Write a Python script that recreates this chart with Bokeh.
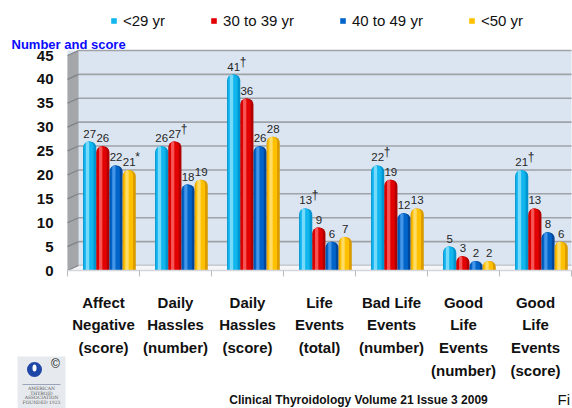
from bokeh.plotting import figure
from bokeh.models import Range1d, FixedTicker, ColumnDataSource, Legend, LegendItem
from bokeh.transform import dodge
from bokeh.core.properties import value
from bokeh.embed import file_html
from bokeh.resources import INLINE

# ---------------- data ----------------
categories = ["Affect\nNegative\n(score)", "Daily\nHassles\n(number)",
              "Daily\nHassles\n(score)", "Life\nEvents\n(total)",
              "Bad Life\nEvents\n(number)", "Good\nLife\nEvents\n(number)",
              "Good\nLife\nEvents\n(score)"]
series_names = ["<29 yr", "30 to 39 yr", "40 to 49 yr", "<50 yr"]
age_lt29 = [27, 26, 41, 13, 22, 5, 21]
age_30_39 = [26, 27, 36, 9, 19, 3, 13]
age_40_49 = [22, 18, 26, 6, 12, 2, 8]
age_ge50 = [21, 19, 28, 7, 13, 2, 6]
marks_lt29 = ["", "", "\u2020", "\u2020", "\u2020", "", "\u2020"]
marks_30_39 = ["", "\u2020", "", "", "", "", ""]
marks_40_49 = ["", "", "", "", "", "", ""]
marks_ge50 = ["*", "", "", "", "", "", ""]
y_ticks = [0, 5, 10, 15, 20, 25, 30, 35, 40, 45]
y_title = "Number and score"
footer_text = "Clinical Thyroidology Volume 21 Issue 3 2009"

SANS = "Liberation Sans"
W, H = 572, 408

# layout of the plotting area in page pixels
PLOT_L, PLOT_B, CAT_W, UNIT_H = 67, 270, 72, 215 / 45
DEPTH = 1.05      # 3D floor depth (value units)
WALL = 0.153      # 3D left wall width (category units)


def X(px):  # page x -> data x
    return (px - PLOT_L) / CAT_W


def Y(py):  # page y -> data y
    return (PLOT_B - py) / UNIT_H


# the frame covers the whole canvas; axes are pinned at x=0 / y=0
p = figure(width=W, height=H, x_range=Range1d(X(0), X(W)), y_range=Range1d(Y(H), Y(0)),
           output_backend="svg", toolbar_location=None, min_border=0,
           min_border_left=0, min_border_right=0, min_border_top=0, min_border_bottom=0)
p.title.visible = False
p.background_fill_color = "white"
p.border_fill_color = "white"
p.outline_line_color = None
p.grid.visible = False

# back wall (shifted up by the floor depth), gridlines, floor, left wall
grid_y = [t + DEPTH for t in y_ticks]
p.quad(left=0, right=7, bottom=DEPTH, top=45 + DEPTH, fill_color="#dbe5f1", line_color=None)
p.segment(x0=WALL, x1=7, y0=grid_y, y1=grid_y, line_color="#9fa2a6", line_width=1.6)
p.quad(left=0, right=7, bottom=0, top=DEPTH, fill_color="#f3f5f9", line_color=None)
p.patch(x=[0, 0, WALL, WALL], y=[0, 45, 45 + DEPTH, DEPTH], fill_color="#a4a6a9",
        line_color=None)
p.segment(x0=[0] * len(y_ticks), x1=[WALL] * len(y_ticks), y0=y_ticks, y1=grid_y,
          line_color="#7f8286", line_width=1.2)

# y axis
p.yaxis.fixed_location = 0
p.yaxis.bounds = (0, 45)
p.yaxis.ticker = FixedTicker(ticks=y_ticks)
p.yaxis.axis_line_color = None
p.yaxis.major_tick_line_color = None
p.yaxis.minor_tick_line_color = None
p.yaxis.major_tick_out = 0
p.yaxis.major_label_standoff = 14
p.yaxis.major_label_text_font = SANS
p.yaxis.major_label_text_font_style = "bold"
p.yaxis.major_label_text_font_size = "15px"
p.yaxis.major_label_text_color = "#111111"

# x axis
centers = [i + 0.5 for i in range(len(categories))]
p.xaxis.fixed_location = 0
p.xaxis.bounds = (0, 7)
p.xaxis.ticker = FixedTicker(ticks=centers, minor_ticks=list(range(len(categories) + 1)))
p.xaxis.major_label_overrides = {c: lab for c, lab in zip(centers, categories)}
p.xaxis.axis_line_color = "#d4d6d9"
p.xaxis.axis_line_width = 1.5
p.xaxis.major_tick_line_color = None
p.xaxis.major_tick_out = 0
p.xaxis.major_tick_in = 0
p.xaxis.minor_tick_line_color = "#b8babd"
p.xaxis.minor_tick_out = 6
p.xaxis.minor_tick_in = 0
p.xaxis.major_label_standoff = 17
p.xaxis.major_label_text_font = SANS
p.xaxis.major_label_text_font_style = "bold"
p.xaxis.major_label_text_font_size = "15px"
p.xaxis.major_label_text_line_height = 1.34
p.xaxis.major_label_text_color = "#111111"

src = ColumnDataSource(dict(x=centers, a=age_lt29, b=age_30_39, c=age_40_49, d=age_ge50,
                            ta=[str(v) for v in age_lt29], tb=[str(v) for v in age_30_39],
                            tc=[str(v) for v in age_40_49], td=[str(v) for v in age_ge50],
                            ma=marks_lt29, mb=marks_30_39, mc=marks_40_49, md=marks_ge50))

BW = 0.183
offsets = [-0.192, -0.009, 0.174, 0.357]
palettes = [("#0095cf", "#12b6ee", "#9be6ff"),
            ("#b00000", "#e20000", "#ff7070"),
            ("#00479c", "#0064c8", "#5aa6f2"),
            ("#d99a00", "#ffc000", "#ffe58a")]
cols = ["a", "b", "c", "d"]
legend_items = []
for col, off, (dark, mid, light), name in zip(cols, offsets, palettes, series_names):
    p.vbar(x=dodge("x", off, range=p.x_range), top=col, bottom=0, width=BW,
           source=src, fill_color=dark, line_color=None, border_radius=(6, 6, 0, 0))
    r = p.vbar(x=dodge("x", off - 0.012, range=p.x_range), top=col, bottom=0,
               width=BW * 0.72, source=src, fill_color=mid, line_color=None,
               border_radius=(5, 5, 0, 0))
    p.vbar(x=dodge("x", off - 0.03, range=p.x_range), top=col, bottom=0, width=BW * 0.25,
           source=src, fill_color=light, fill_alpha=0.75, line_color=None,
           border_radius=(2, 2, 0, 0))
    legend_items.append(LegendItem(label=name, renderers=[r]))
    p.text(x=dodge("x", off, range=p.x_range), y=col, text="t" + col, source=src,
           text_align="center", text_baseline="bottom", y_offset=-4,
           text_font=value(SANS), text_font_size="11.5px", text_color="#262626")
    p.text(x=dodge("x", off, range=p.x_range), y=col, text="m" + col, source=src,
           text_align="left", text_baseline="bottom", x_offset=6, y_offset=-6,
           text_font=value(SANS), text_font_size="12px", text_color="#262626")

legend = Legend(items=legend_items, orientation="horizontal", location=(110, H - 29),
                glyph_width=7, glyph_height=7, label_standoff=6, spacing=45, padding=0,
                margin=0, background_fill_alpha=0, border_line_color=None,
                label_text_font=SANS, label_text_font_size="15px",
                label_text_color="#111111", label_height=16)
p.add_layout(legend)

# y caption
p.text(x=[X(11)], y=[Y(44)], text=[y_title], text_font=value(SANS),
       text_font_style="bold", text_font_size="13px", text_align="left",
       text_baseline="alphabetic", text_color="#0a0aff")

# logo (approximation)
p.quad(left=X(17), right=X(65), top=Y(356), bottom=Y(408), fill_color="#e6eaee",
       line_color=None)
p.scatter(x=[X(34)], y=[Y(369)], size=15, marker="circle", fill_color="#1f47a8",
          line_color=None)
p.ellipse(x=[X(34)], y=[Y(367.5)], width=4, height=7, width_units="screen",
          height_units="screen", fill_color="white", line_color=None)
p.segment(x0=[X(22)], y0=[Y(384)], x1=[X(60)], y1=[Y(384)], line_color="#9aa4b8",
          line_width=1)
p.text(x=[X(55)], y=[Y(363)], text=["\u00a9"], text_font=value(SANS),
       text_font_size="12px", text_align="center", text_baseline="middle",
       text_color="#111111")
p.text(x=[X(41)] * 4, y=[Y(388), Y(392.5), Y(397), Y(401.5)],
       text=["AMERICAN", "THYROID", "ASSOCIATION", "FOUNDED 1923"],
       text_font=value("DejaVu Serif"), text_font_size="4.5px", text_align="center",
       text_baseline="middle", text_color="#555555")

# footer
p.text(x=[X(358)], y=[Y(399)], text=[footer_text], text_font=value(SANS),
       text_font_style="bold", text_font_size="12px", text_align="center",
       text_baseline="alphabetic", text_color="#111111")
p.text(x=[X(557)], y=[Y(399)], text=["Fi"], text_font=value(SANS), text_font_size="15px",
       text_align="left", text_baseline="alphabetic", text_color="#111111")

open("out.html", "w").write(file_html(p, INLINE))
